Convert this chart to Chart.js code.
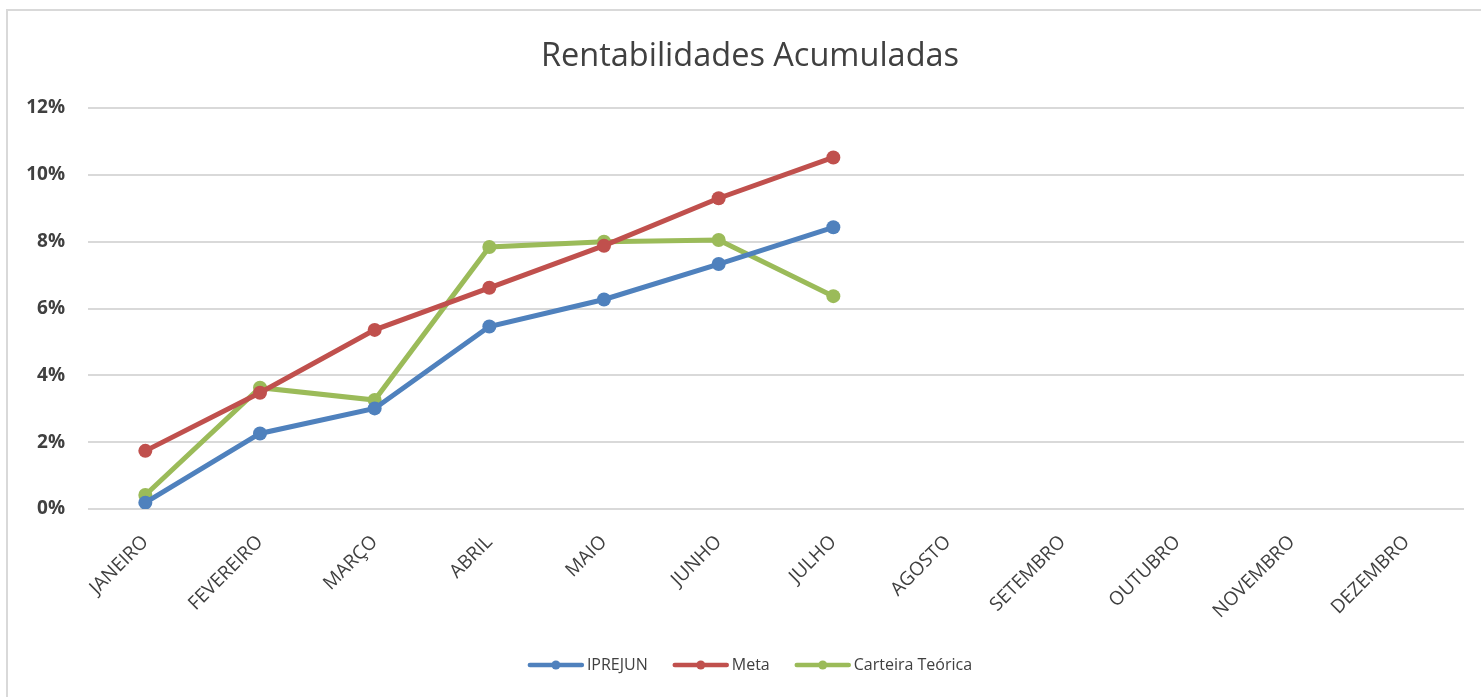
<!DOCTYPE html>
<html>
<head>
<meta charset="utf-8">
<script src="https://cdn.jsdelivr.net/npm/chart.js@4"></script>
<style>
  html, body { margin: 0; padding: 0; background: #fff; }
  #wrap { width: 1481px; height: 697px; }
</style>
</head>
<body>
<div id="wrap"><canvas id="myChart" width="1481" height="697"></canvas></div>
<script>
// values in percent
const months = ['JANEIRO', 'FEVEREIRO', 'MARÇO', 'ABRIL', 'MAIO', 'JUNHO', 'JULHO',
    'AGOSTO', 'SETEMBRO', 'OUTUBRO', 'NOVEMBRO', 'DEZEMBRO'];
const iprejun = [0.19, 2.26, 3.01, 5.46, 6.27, 7.33, 8.43, null, null, null, null, null];
const meta = [1.74, 3.48, 5.36, 6.62, 7.88, 9.30, 10.52, null, null, null, null, null];
const carteira = [0.42, 3.63, 3.26, 7.84, 8.00, 8.05, 6.37, null, null, null, null, null];
const yTicks = [0, 2, 4, 6, 8, 10, 12];

const FONT = "'Open Sans', sans-serif";
const TEXT = '#404040';
const SHIFT = 18; // excel centres title/legend a little right of the canvas middle

// excel-like frame + legend line with a dot in the middle
const decor = {
    id: 'decor',
    afterUpdate(chart) {
        const tb = chart.titleBlock;
        if (tb) { tb.left += SHIFT; tb.right += SHIFT; }
        const lg = chart.legend;
        if (lg && lg.legendHitBoxes) {
            const tops = lg.legendHitBoxes.map(hb => hb.top);
            lg.left += SHIFT;
            lg.right += SHIFT;
            lg.adjustHitBoxes();
            lg.legendHitBoxes.forEach((hb, i) => { hb.top = tops[i]; });
        }
    },
    beforeDraw(chart) {
        const ctx = chart.ctx;
        ctx.save();
        ctx.fillStyle = '#fff';
        ctx.fillRect(0, 0, chart.width, chart.height);
        ctx.strokeStyle = '#d9d9d9';
        ctx.lineWidth = 2;
        ctx.beginPath();
        ctx.moveTo(7, chart.height);
        ctx.lineTo(7, 10);
        ctx.lineTo(chart.width, 10);
        ctx.stroke();
        ctx.restore();
    },
    afterDraw(chart) {
        const legend = chart.legend;
        if (!legend || !legend.legendHitBoxes) return;
        const ctx = chart.ctx;
        ctx.save();
        legend.legendHitBoxes.forEach((hb, i) => {
            const color = chart.data.datasets[i].borderColor;
            const cy = hb.top + hb.height / 2;
            ctx.strokeStyle = color;
            ctx.lineWidth = 4.5;
            ctx.lineCap = 'round';
            ctx.beginPath();
            ctx.moveTo(hb.left + 2, cy);
            ctx.lineTo(hb.left + 54, cy);
            ctx.stroke();
            ctx.fillStyle = color;
            ctx.beginPath();
            ctx.arc(hb.left + 28, cy, 4.5, 0, Math.PI * 2);
            ctx.fill();
        });
        ctx.restore();
    }
};

const initChart = () => {
    const ctx = document.getElementById('myChart').getContext('2d');
    const lineSet = (label, data, color) => ({
        label: label,
        data: data,
        borderColor: color,
        backgroundColor: color,
        pointBackgroundColor: color,
        pointBorderWidth: 0,
        pointRadius: 7,
        borderWidth: 5,
        tension: 0
    });

    new Chart(ctx, {
        type: 'line',
        data: {
            labels: months,
            datasets: [
                lineSet('IPREJUN', iprejun, '#4F81BD'),
                lineSet('Meta', meta, '#C0504D'),
                lineSet('Carteira Teórica', carteira, '#9BBB59')
            ]
        },
        options: {
            responsive: false,
            animation: false,
            layout: { padding: { left: 0, right: 17, top: 0, bottom: 14 } },
            plugins: {
                title: {
                    display: true,
                    text: 'Rentabilidades Acumuladas',
                    color: TEXT,
                    font: { family: FONT, size: 32.5, weight: 'normal' },
                    padding: { top: 37, bottom: 32 }
                },
                legend: {
                    position: 'bottom',
                    labels: {
                        boxWidth: 51,
                        boxHeight: 4,
                        padding: 25,
                        color: TEXT,
                        font: { family: FONT, size: 16 },
                        generateLabels(chart) {
                            return chart.data.datasets.map((ds, i) => ({
                                text: ds.label,
                                fillStyle: 'rgba(0,0,0,0)',
                                strokeStyle: 'rgba(0,0,0,0)',
                                lineWidth: 0,
                                fontColor: TEXT,
                                datasetIndex: i
                            }));
                        }
                    }
                },
                tooltip: { enabled: false }
            },
            scales: {
                x: {
                    offset: true,
                    grid: { display: false },
                    border: { display: false },
                    ticks: {
                        autoSkip: false,
                        minRotation: 45,
                        maxRotation: 45,
                        padding: 14,
                        color: TEXT,
                        font: { family: FONT, size: 19 }
                    },
                    afterFit(scale) { scale.height = 123; }
                },
                y: {
                    min: 0,
                    max: 12,
                    border: { display: false },
                    grid: { color: '#d9d9d9', lineWidth: 2, drawTicks: false },
                    afterBuildTicks(scale) {
                        scale.ticks = yTicks.map(v => ({ value: v }));
                    },
                    ticks: {
                        padding: 23,
                        color: TEXT,
                        font: { family: FONT, size: 19, weight: 'bold' },
                        callback: v => v + '%'
                    },
                    afterFit(scale) { scale.width = 88; }
                }
            }
        },
        plugins: [decor]
    });
};

document.addEventListener('DOMContentLoaded', initChart);
</script>
</body>
</html>
